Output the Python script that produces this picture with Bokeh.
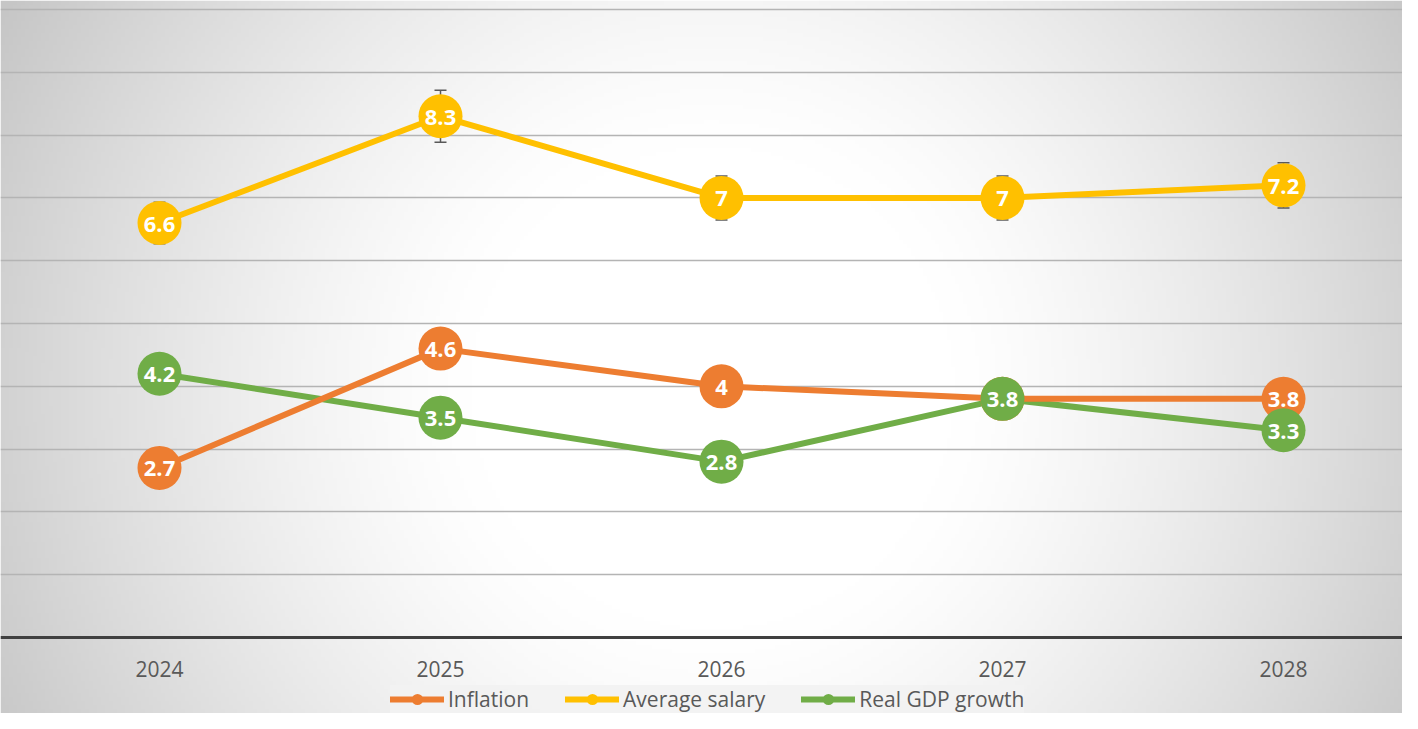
import numpy as np
from bokeh.plotting import figure
from bokeh.models import (Range1d, FixedTicker, Legend, LegendItem, Whisker, TeeHead,
                          ColumnDataSource)
from bokeh.core.properties import value
from bokeh.embed import file_html
from bokeh.resources import INLINE

# ---- data ----
years = [2024, 2025, 2026, 2027, 2028]
year_labels = ["2024", "2025", "2026", "2027", "2028"]
inflation = [2.7, 4.6, 4.0, 3.8, 3.8]
salary = [6.6, 8.3, 7.0, 7.0, 7.2]
gdp = [4.2, 3.5, 2.8, 3.8, 3.3]
salary_err = [0.33, 0.415, 0.35, 0.35, 0.36]
series_names = ["Inflation", "Average salary", "Real GDP growth"]
grid_values = [1, 2, 3, 4, 5, 6, 7, 8, 9, 10]

colors = ["#ED7D31", "#FFC000", "#70AD47"]
FONT = "Open Sans"

W, H = 1402, 713
# frame geometry (pixels per unit)
x_px = 281.0
y_px = 62.8
xs = years[0] - 159.0 / x_px
xe = xs + W / x_px
ye = 637.0 / y_px
ys = -(H - 637.0) / y_px

p = figure(width=W, height=H, output_backend="svg", toolbar_location=None,
           x_range=Range1d(xs, xe), y_range=Range1d(ys, ye), title=None,
           min_border=0, min_border_left=0, min_border_right=0,
           min_border_top=0, min_border_bottom=0)
p.outline_line_color = None
p.background_fill_color = "#ffffff"
p.border_fill_color = "#ffffff"

# radial gradient background (style only)
gw, gh = 351, 179
px = (np.arange(gw) + 0.5) * W / gw
py = H - (np.arange(gh) + 0.5) * H / gh  # row 0 is bottom
PX, PY = np.meshgrid(px, py)
r = np.sqrt((PX - 712.0) ** 2 + (PY - 388.0) ** 2) / 805.0
t = np.clip((r - 0.3) / 0.7, 0, 1) ** 1.3
c = np.clip(255 - 57 * t, 0, 255).astype(np.uint32)
img = (255 << 24) | (c << 16) | (c << 8) | c
p.image_rgba(image=[img.astype(np.uint32)], x=xs, y=ys, dw=xe - xs, dh=ye - ys, level="image")

# grid
p.ygrid.ticker = FixedTicker(ticks=grid_values)
p.ygrid.grid_line_color = "#b4b4b4"
p.ygrid.grid_line_width = 1.5
p.xgrid.visible = False

# axes
p.yaxis.visible = False
p.xaxis.ticker = FixedTicker(ticks=years)
p.xaxis.major_label_overrides = {y: l for y, l in zip(years, year_labels)}
p.xaxis.fixed_location = 0
p.xaxis.axis_line_color = "#404040"
p.xaxis.axis_line_width = 3
p.xaxis.major_tick_line_color = None
p.xaxis.minor_tick_line_color = None
p.xaxis.major_label_text_font = FONT
p.xaxis.major_label_text_font_size = "21px"
p.xaxis.major_label_text_color = "#595959"
p.xaxis.major_label_standoff = 17

# error bars on average salary
src_err = ColumnDataSource(dict(x=years,
                                upper=[v + e for v, e in zip(salary, salary_err)],
                                lower=[v - e for v, e in zip(salary, salary_err)]))
wh = Whisker(base="x", upper="upper", lower="lower", source=src_err, dimension="height",
             line_color="#595959", line_width=1.5, level="underlay",
             upper_head=TeeHead(size=12, line_color="#595959", line_width=1.5),
             lower_head=TeeHead(size=12, line_color="#595959", line_width=1.5))
p.add_layout(wh)

data = [inflation, salary, gdp]
lines = [None, None, None]
for i in [2, 1, 0]:
    lines[i] = p.line(years, data[i], line_color=colors[i], line_width=6, line_cap="round")
markers = []
for i in range(3):
    markers.append(p.scatter(years, data[i], size=44, fill_color=colors[i],
                             line_color=colors[i], line_width=0))
    p.text(years, data[i], text=[f"{v:g}" for v in data[i]], text_align="center",
           text_baseline="middle", text_font=value(FONT), text_font_style="bold",
           text_font_size="22px", text_color="white", y_offset=1)

legend = Legend(items=[LegendItem(label=series_names[i], renderers=[lines[i], markers[i]])
                       for i in range(3)],
                location=(390, 0), orientation="horizontal",
                label_text_font=FONT, label_text_font_size="21px", label_text_color="#595959",
                glyph_width=54, glyph_height=28, label_standoff=4, spacing=36,
                padding=10, margin=0, border_line_color=None,
                background_fill_color="#f2f2f2", background_fill_alpha=0.9)
p.add_layout(legend)

open("out.html", "w").write(file_html(p, INLINE))
